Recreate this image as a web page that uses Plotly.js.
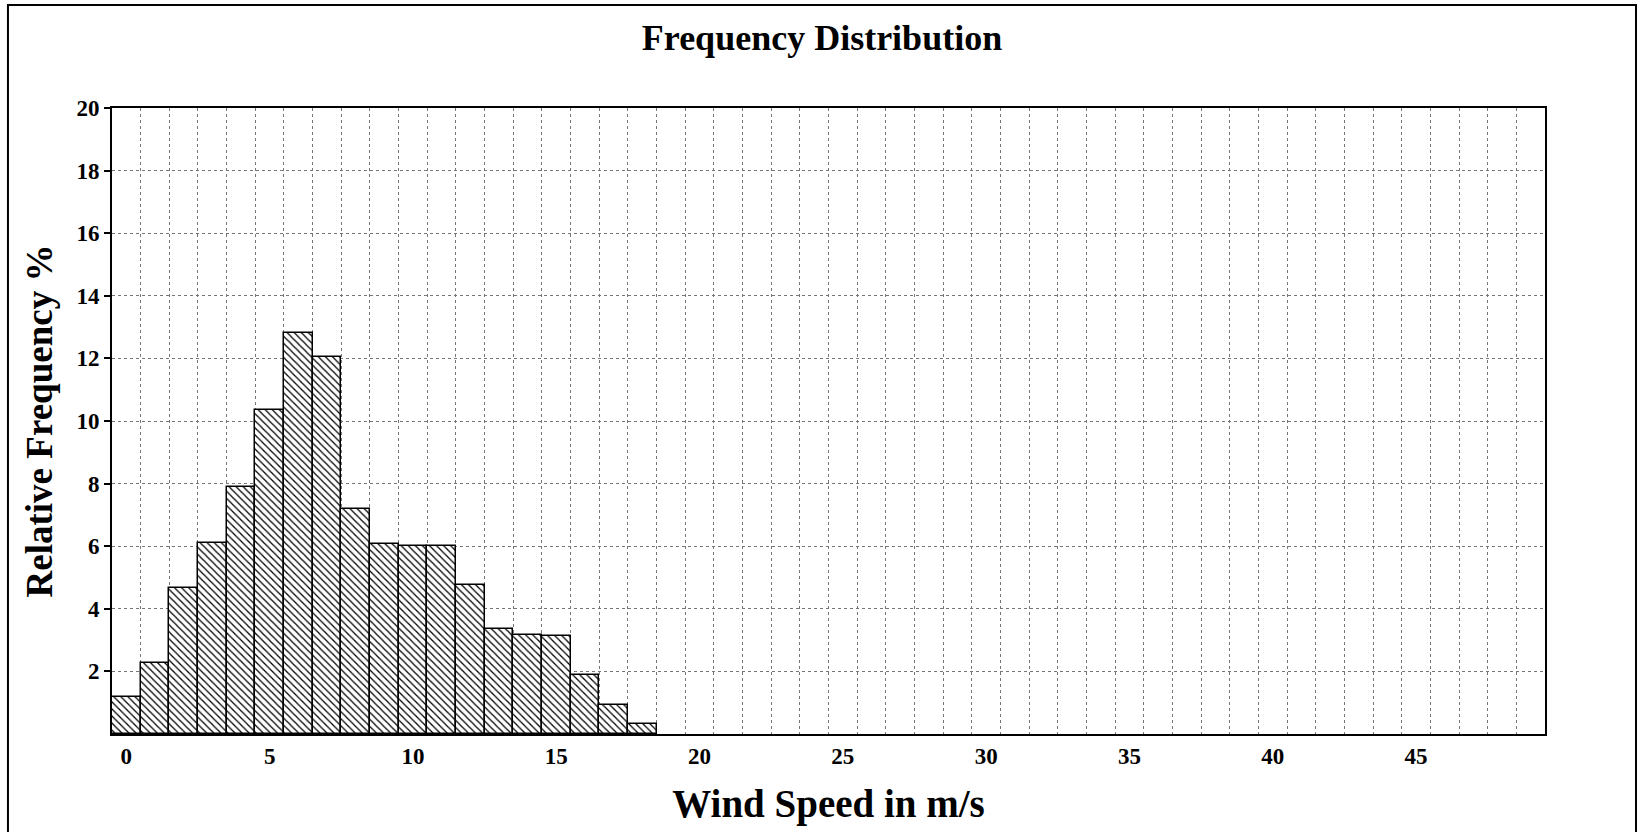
<!DOCTYPE html>
<html>
<head>
<meta charset="utf-8">
<script src="https://cdn.plot.ly/plotly-3.0.1.min.js"></script>
<style>body{margin:0;background:#fff}#chart{width:1644px;height:832px}</style>
</head>
<body>
<div id="chart"></div>
<script>
let speeds = [0, 1, 2, 3, 4, 5, 6, 7, 8, 9, 10, 11, 12, 13, 14, 15, 16, 17, 18];
let freq = [1.17, 2.28, 4.66, 6.1, 7.9, 10.35, 12.8, 12.03, 7.2, 6.06, 6.0, 6.0, 4.76, 3.35, 3.15, 3.12, 1.88, 0.94, 0.33];
let xTicks = [0, 5, 10, 15, 20, 25, 30, 35, 40, 45];
let yTicks = [2, 4, 6, 8, 10, 12, 14, 16, 18, 20];

let trace = {
    type: "bar",
    x: speeds,
    y: freq,
    width: 1,
    marker: {
        color: "#fff",
        line: { color: "#000", width: 1.5 },
        pattern: { shape: "\\", fgcolor: "#000", bgcolor: "#fff", size: 5, solidity: 0.25 }
    },
    hoverinfo: "x+y"
};

let font = { family: "Liberation Serif, Times New Roman, serif", color: "#000" };

let layout = {
    width: 1644, height: 832,
    paper_bgcolor: "#fff", plot_bgcolor: "#fff",
    margin: { l: 112, r: 99, t: 108, b: 98 },
    font: Object.assign({ size: 20, weight: "bold" }, font),
    title: { text: "<b>Frequency Distribution</b>", x: 0.5, xanchor: "center", y: 0.955, yanchor: "middle", font: Object.assign({ size: 36 }, font) },
    showlegend: false,
    bargap: 0,
    xaxis: {
        range: [-0.5, 49.5],
        tickvals: xTicks,
        ticktext: xTicks.map(String),
        showgrid: false,
        zeroline: false,
        ticks: "",
        showline: true, linecolor: "#000", linewidth: 2, mirror: true,
        tickfont: Object.assign({ size: 23, weight: "bold" }, font),
        minor: { dtick: 1, tick0: 0.5, showgrid: true, gridcolor: "#777", griddash: "dot", gridwidth: 1, ticks: "" },
        title: { text: "<b>Wind Speed in m/s</b>", standoff: 22, font: Object.assign({ size: 39 }, font) }
    },
    yaxis: {
        range: [0, 20],
        tickvals: yTicks,
        ticktext: yTicks.map(String),
        showgrid: true, gridcolor: "#777", griddash: "dot", gridwidth: 1,
        zeroline: false,
        ticks: "outside", ticklen: 6, tickwidth: 2, tickcolor: "#000",
        showline: true, linecolor: "#000", linewidth: 2, mirror: true,
        tickfont: Object.assign({ size: 23, weight: "bold" }, font),
        title: { text: "<b>Relative Frequency %</b>", standoff: 12, font: Object.assign({ size: 37 }, font) }
    },
    shapes: [{
        type: "rect", xref: "paper", yref: "paper",
        x0: -0.0726, x1: 1.0635, y0: -0.17, y1: 1.1645,
        line: { color: "#000", width: 2 }, fillcolor: "rgba(0,0,0,0)", layer: "below"
    }]
};

Plotly.newPlot("chart", [trace], layout, { displayModeBar: false });
</script>
</body>
</html>
